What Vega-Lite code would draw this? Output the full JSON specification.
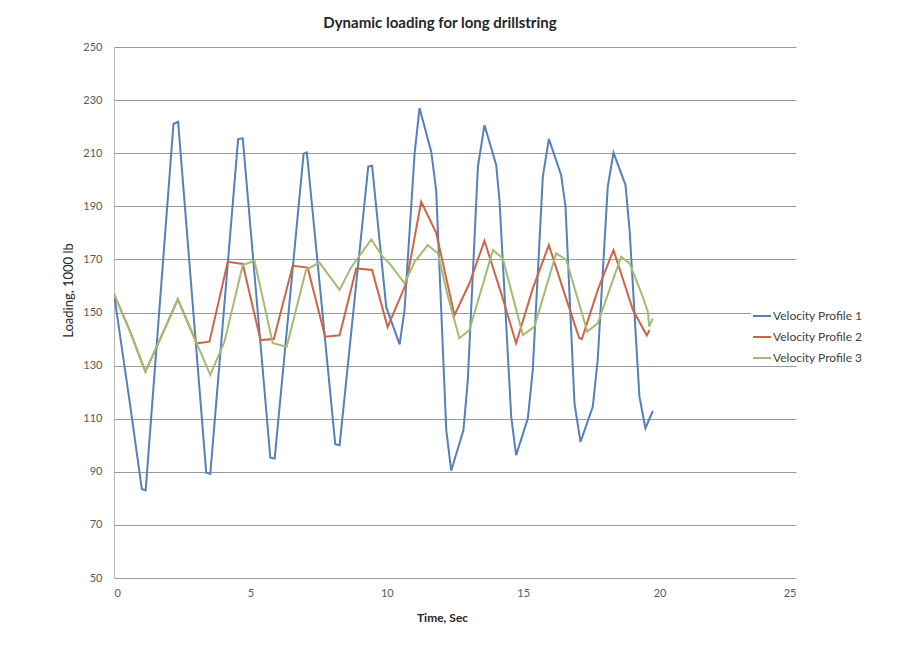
{
  "$schema": "https://vega.github.io/schema/vega-lite/v6.json",
  "width": 682,
  "height": 531,
  "autosize": {"type": "none"},
  "padding": {"left": 114, "top": 47, "right": 120, "bottom": 69},
  "background": "white",
  "title": {
    "text": "Dynamic loading for long drillstring",
    "font": "Lato",
    "fontSize": 15,
    "fontWeight": "bold",
    "color": "#262626",
    "anchor": "middle",
    "dx": -15,
    "offset": 10
  },
  "config": {
    "view": {"stroke": null},
    "font": "Lato"
  },
  "data": {
    "values": [
      {"s": "Velocity Profile 1", "t": 0.0, "v": 157},
      {"s": "Velocity Profile 1", "t": 0.58, "v": 116},
      {"s": "Velocity Profile 1", "t": 1.02, "v": 83.5},
      {"s": "Velocity Profile 1", "t": 1.16, "v": 83},
      {"s": "Velocity Profile 1", "t": 2.18, "v": 221},
      {"s": "Velocity Profile 1", "t": 2.35, "v": 221.8},
      {"s": "Velocity Profile 1", "t": 3.38, "v": 89.7},
      {"s": "Velocity Profile 1", "t": 3.53, "v": 89.2},
      {"s": "Velocity Profile 1", "t": 4.55, "v": 215.3},
      {"s": "Velocity Profile 1", "t": 4.72, "v": 215.6},
      {"s": "Velocity Profile 1", "t": 5.73, "v": 95.3},
      {"s": "Velocity Profile 1", "t": 5.89, "v": 95},
      {"s": "Velocity Profile 1", "t": 6.95, "v": 209.8},
      {"s": "Velocity Profile 1", "t": 7.07, "v": 210.3},
      {"s": "Velocity Profile 1", "t": 8.11, "v": 100.4},
      {"s": "Velocity Profile 1", "t": 8.27, "v": 100},
      {"s": "Velocity Profile 1", "t": 9.32, "v": 205},
      {"s": "Velocity Profile 1", "t": 9.46, "v": 205.3},
      {"s": "Velocity Profile 1", "t": 9.98, "v": 152},
      {"s": "Velocity Profile 1", "t": 10.47, "v": 138},
      {"s": "Velocity Profile 1", "t": 10.65, "v": 151},
      {"s": "Velocity Profile 1", "t": 11.02, "v": 210},
      {"s": "Velocity Profile 1", "t": 11.2, "v": 227},
      {"s": "Velocity Profile 1", "t": 11.63, "v": 210.5},
      {"s": "Velocity Profile 1", "t": 11.81, "v": 196},
      {"s": "Velocity Profile 1", "t": 12.18, "v": 105.7},
      {"s": "Velocity Profile 1", "t": 12.36, "v": 90.4},
      {"s": "Velocity Profile 1", "t": 12.81, "v": 105.7},
      {"s": "Velocity Profile 1", "t": 12.97, "v": 124.6},
      {"s": "Velocity Profile 1", "t": 13.34, "v": 205},
      {"s": "Velocity Profile 1", "t": 13.58, "v": 220.6},
      {"s": "Velocity Profile 1", "t": 14.01, "v": 205.6},
      {"s": "Velocity Profile 1", "t": 14.13, "v": 192.4},
      {"s": "Velocity Profile 1", "t": 14.56, "v": 110.8},
      {"s": "Velocity Profile 1", "t": 14.74, "v": 96.3},
      {"s": "Velocity Profile 1", "t": 15.17, "v": 110.1},
      {"s": "Velocity Profile 1", "t": 15.35, "v": 128.3},
      {"s": "Velocity Profile 1", "t": 15.72, "v": 201.2},
      {"s": "Velocity Profile 1", "t": 15.94, "v": 215.4},
      {"s": "Velocity Profile 1", "t": 16.39, "v": 201.8},
      {"s": "Velocity Profile 1", "t": 16.55, "v": 190},
      {"s": "Velocity Profile 1", "t": 16.88, "v": 115.8},
      {"s": "Velocity Profile 1", "t": 17.1, "v": 101.3},
      {"s": "Velocity Profile 1", "t": 17.55, "v": 114.5},
      {"s": "Velocity Profile 1", "t": 17.73, "v": 132},
      {"s": "Velocity Profile 1", "t": 18.1, "v": 197.4},
      {"s": "Velocity Profile 1", "t": 18.31, "v": 210.2},
      {"s": "Velocity Profile 1", "t": 18.75, "v": 198},
      {"s": "Velocity Profile 1", "t": 18.9, "v": 181},
      {"s": "Velocity Profile 1", "t": 19.26, "v": 118.3},
      {"s": "Velocity Profile 1", "t": 19.48, "v": 106.4},
      {"s": "Velocity Profile 1", "t": 19.75, "v": 112.9},

      {"s": "Velocity Profile 2", "t": 0.0, "v": 157},
      {"s": "Velocity Profile 2", "t": 0.57, "v": 143.4},
      {"s": "Velocity Profile 2", "t": 1.15, "v": 127.7},
      {"s": "Velocity Profile 2", "t": 1.79, "v": 142.2},
      {"s": "Velocity Profile 2", "t": 2.34, "v": 155},
      {"s": "Velocity Profile 2", "t": 3.03, "v": 138.4},
      {"s": "Velocity Profile 2", "t": 3.5, "v": 139},
      {"s": "Velocity Profile 2", "t": 4.17, "v": 169.1},
      {"s": "Velocity Profile 2", "t": 4.72, "v": 168.3},
      {"s": "Velocity Profile 2", "t": 5.37, "v": 139.6},
      {"s": "Velocity Profile 2", "t": 5.86, "v": 140},
      {"s": "Velocity Profile 2", "t": 6.55, "v": 167.6},
      {"s": "Velocity Profile 2", "t": 7.1, "v": 166.9},
      {"s": "Velocity Profile 2", "t": 7.74, "v": 140.9},
      {"s": "Velocity Profile 2", "t": 8.27, "v": 141.4},
      {"s": "Velocity Profile 2", "t": 8.88, "v": 166.6},
      {"s": "Velocity Profile 2", "t": 9.46, "v": 166},
      {"s": "Velocity Profile 2", "t": 10.03, "v": 144.5},
      {"s": "Velocity Profile 2", "t": 10.71, "v": 161},
      {"s": "Velocity Profile 2", "t": 11.26, "v": 191.7},
      {"s": "Velocity Profile 2", "t": 11.81, "v": 180},
      {"s": "Velocity Profile 2", "t": 12.48, "v": 149},
      {"s": "Velocity Profile 2", "t": 13.03, "v": 161},
      {"s": "Velocity Profile 2", "t": 13.58, "v": 177},
      {"s": "Velocity Profile 2", "t": 14.2, "v": 157},
      {"s": "Velocity Profile 2", "t": 14.74, "v": 138.4},
      {"s": "Velocity Profile 2", "t": 15.35, "v": 159},
      {"s": "Velocity Profile 2", "t": 15.94, "v": 175.4},
      {"s": "Velocity Profile 2", "t": 16.55, "v": 156},
      {"s": "Velocity Profile 2", "t": 17.05, "v": 140.5},
      {"s": "Velocity Profile 2", "t": 17.15, "v": 140},
      {"s": "Velocity Profile 2", "t": 17.75, "v": 159},
      {"s": "Velocity Profile 2", "t": 18.31, "v": 173.5},
      {"s": "Velocity Profile 2", "t": 19.02, "v": 151},
      {"s": "Velocity Profile 2", "t": 19.53, "v": 141.3},
      {"s": "Velocity Profile 2", "t": 19.63, "v": 143.4},

      {"s": "Velocity Profile 3", "t": 0.0, "v": 157},
      {"s": "Velocity Profile 3", "t": 0.57, "v": 143.4},
      {"s": "Velocity Profile 3", "t": 1.15, "v": 127.7},
      {"s": "Velocity Profile 3", "t": 1.79, "v": 142.2},
      {"s": "Velocity Profile 3", "t": 2.34, "v": 155},
      {"s": "Velocity Profile 3", "t": 3.53, "v": 126.5},
      {"s": "Velocity Profile 3", "t": 4.05, "v": 139},
      {"s": "Velocity Profile 3", "t": 4.72, "v": 167.9},
      {"s": "Velocity Profile 3", "t": 5.15, "v": 169.5},
      {"s": "Velocity Profile 3", "t": 5.82, "v": 138.4},
      {"s": "Velocity Profile 3", "t": 6.33, "v": 137.1},
      {"s": "Velocity Profile 3", "t": 7.04, "v": 166},
      {"s": "Velocity Profile 3", "t": 7.53, "v": 168.8},
      {"s": "Velocity Profile 3", "t": 8.27, "v": 158.5},
      {"s": "Velocity Profile 3", "t": 8.69, "v": 166.9},
      {"s": "Velocity Profile 3", "t": 9.43, "v": 177.5},
      {"s": "Velocity Profile 3", "t": 9.85, "v": 171},
      {"s": "Velocity Profile 3", "t": 10.1, "v": 168.5},
      {"s": "Velocity Profile 3", "t": 10.65, "v": 161},
      {"s": "Velocity Profile 3", "t": 11.02, "v": 169.1},
      {"s": "Velocity Profile 3", "t": 11.5, "v": 175.4},
      {"s": "Velocity Profile 3", "t": 11.87, "v": 172.3},
      {"s": "Velocity Profile 3", "t": 12.24, "v": 156},
      {"s": "Velocity Profile 3", "t": 12.66, "v": 140.3},
      {"s": "Velocity Profile 3", "t": 13.03, "v": 143.4},
      {"s": "Velocity Profile 3", "t": 13.89, "v": 173.5},
      {"s": "Velocity Profile 3", "t": 14.25, "v": 170.4},
      {"s": "Velocity Profile 3", "t": 14.99, "v": 141.5},
      {"s": "Velocity Profile 3", "t": 15.41, "v": 144.7},
      {"s": "Velocity Profile 3", "t": 16.21, "v": 172.3},
      {"s": "Velocity Profile 3", "t": 16.58, "v": 169.8},
      {"s": "Velocity Profile 3", "t": 17.35, "v": 142.8},
      {"s": "Velocity Profile 3", "t": 17.73, "v": 145.9},
      {"s": "Velocity Profile 3", "t": 18.59, "v": 171},
      {"s": "Velocity Profile 3", "t": 18.9, "v": 168.5},
      {"s": "Velocity Profile 3", "t": 19.38, "v": 156},
      {"s": "Velocity Profile 3", "t": 19.57, "v": 150.3},
      {"s": "Velocity Profile 3", "t": 19.62, "v": 144.7},
      {"s": "Velocity Profile 3", "t": 19.75, "v": 147.8}
    ]
  },
  "mark": {"type": "line", "strokeWidth": 2, "clip": true},
  "encoding": {
    "x": {
      "field": "t",
      "type": "quantitative",
      "scale": {"domain": [0, 25], "nice": false, "zero": false},
      "axis": {
        "values": [0, 5, 10, 15, 20, 25],
        "title": "Time, Sec",
        "titleFont": "Lato",
        "titleFontSize": 12,
        "titleFontWeight": "bold",
        "titleColor": "#262626",
        "titleX": 328,
        "titleY": 39,
        "titleBaseline": "middle",
        "titleAnchor": null,
        "labelFont": "Lato",
        "labelFontSize": 11,
        "labelColor": "#595959",
        "labelPadding": 9,
        "ticks": false,
        "domain": false,
        "grid": false
      }
    },
    "y": {
      "field": "v",
      "type": "quantitative",
      "scale": {"domain": [50, 250], "nice": false, "zero": false},
      "axis": {
        "values": [50, 70, 90, 110, 130, 150, 170, 190, 210, 230, 250],
        "title": "Loading, 1000 lb",
        "titleFont": "Lato",
        "titleFontSize": 13,
        "titleFontWeight": "normal",
        "titleColor": "#262626",
        "titleAngle": -90,
        "titleX": -46,
        "titleY": 243,
        "titleAlign": "center",
        "titleBaseline": "middle",
        "titleAnchor": null,
        "labelFont": "Lato",
        "labelFontSize": 11,
        "labelColor": "#595959",
        "labelPadding": 12,
        "ticks": false,
        "domain": true,
        "domainColor": "#b5b5b5",
        "grid": true,
        "gridColor": "#9a9a9a",
        "gridWidth": 1
      }
    },
    "color": {
      "field": "s",
      "type": "nominal",
      "scale": {
        "domain": ["Velocity Profile 1", "Velocity Profile 2", "Velocity Profile 3"],
        "range": ["#5580bd", "#cd6547", "#a3bc72"]
      },
      "legend": {
        "title": null,
        "orient": "none",
        "legendX": 637,
        "legendY": 258,
        "fillColor": "white",
        "padding": 1,
        "symbolType": "stroke",
        "symbolSize": 324,
        "symbolStrokeWidth": 2,
        "labelFont": "Lato",
        "labelFontSize": 12,
        "labelColor": "#404040",
        "labelOffset": 1,
        "rowPadding": 5
      }
    }
  }
}
